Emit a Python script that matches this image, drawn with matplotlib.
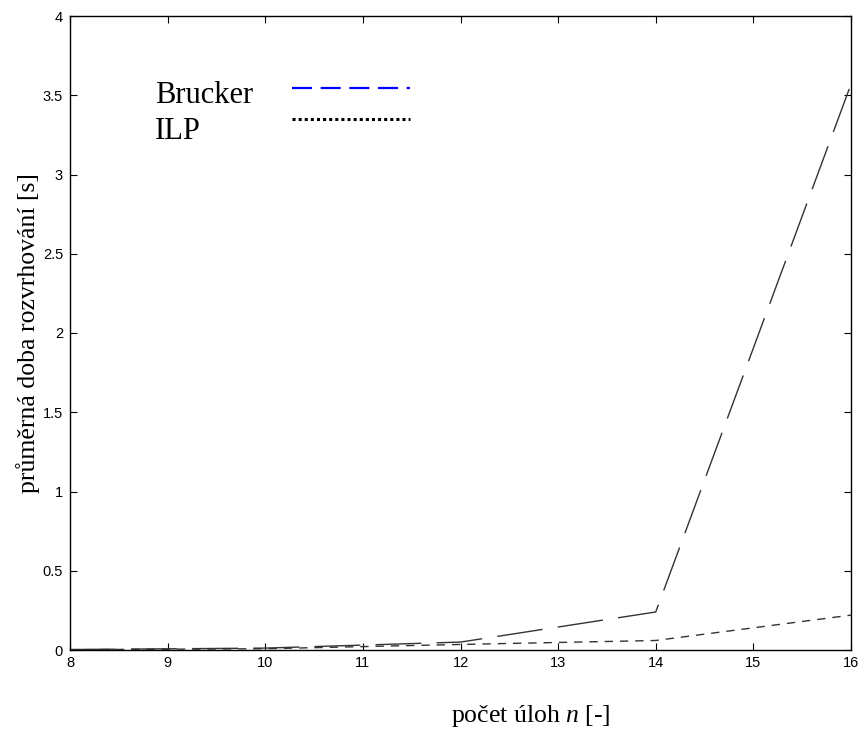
import matplotlib
matplotlib.use("Agg")
import matplotlib.pyplot as plt
from matplotlib.lines import Line2D
from matplotlib.ticker import FuncFormatter

n_values = [8, 10, 12, 14, 16]
brucker = [0.003, 0.012, 0.05, 0.24, 3.57]
ilp = [0.002, 0.008, 0.035, 0.06, 0.22]
x_ticks = [8, 9, 10, 11, 12, 13, 14, 15, 16]
y_ticks = [0, 0.5, 1, 1.5, 2, 2.5, 3, 3.5, 4]
legend_labels = ["Brucker", "ILP"]
x_label = "počet úloh $\\mathit{n}$ [-]"
y_label = "průměrná doba rozvrhování [s]"

plt.rcParams['mathtext.fontset'] = 'custom'
plt.rcParams['mathtext.it'] = 'Liberation Serif:italic'
plt.rcParams['mathtext.rm'] = 'Liberation Serif'

W, H = 864, 729
fig = plt.figure(figsize=(W / 100, H / 100), dpi=100)
ax = fig.add_axes([70 / W, 79 / H, 781 / W, 634 / H])

ax.plot(n_values, brucker, color="#333333", lw=1.0, dashes=(33, 11))
ax.plot(n_values, ilp, color="#333333", lw=1.0, dashes=(6, 5))

ax.set_xlim(8, 16)
ax.set_ylim(0, 4)
ax.set_xticks(x_ticks)
ax.set_yticks(y_ticks)
ax.yaxis.set_major_formatter(FuncFormatter(lambda v, p: f"{v:g}"))
ax.tick_params(direction="in", length=5, width=0.8, top=True, right=True,
               labelsize=10.5)
ax.tick_params(axis="x", pad=4)
ax.tick_params(axis="y", pad=5)
for lab in ax.get_xticklabels() + ax.get_yticklabels():
    lab.set_fontfamily("Liberation Sans")
for s in ax.spines.values():
    s.set_linewidth(1.0)

ax.set_xlabel(x_label, fontsize=18.5, fontfamily="Liberation Serif")
ax.xaxis.set_label_coords(0.59, -0.083)
ax.set_ylabel(y_label, fontsize=18.5, fontfamily="Liberation Serif")
ax.yaxis.set_label_coords(-0.038, 0.5)

# legend labels (text), left aligned
label_baselines = [103, 139]
for lbl, yb in zip(legend_labels, label_baselines):
    fig.text(155 / W, 1 - yb / H, lbl, fontsize=22, fontfamily="Liberation Serif",
             va="baseline", ha="left")

# legend keys
handles = [
    Line2D([], [], color="blue", lw=1.6, dashes=(9, 3.9)),
    Line2D([], [], color="black", lw=2.2, dashes=(1, 1)),
]
leg = ax.legend(handles, ["", ""], loc="upper left",
                bbox_to_anchor=(292 / W, 1 - 77 / H), bbox_transform=fig.transFigure,
                frameon=False, handlelength=3.86, handletextpad=0,
                labelspacing=0.05, borderpad=0, borderaxespad=0,
                prop={"family": "Liberation Serif", "size": 22})

fig.savefig("out.png", dpi=100)
